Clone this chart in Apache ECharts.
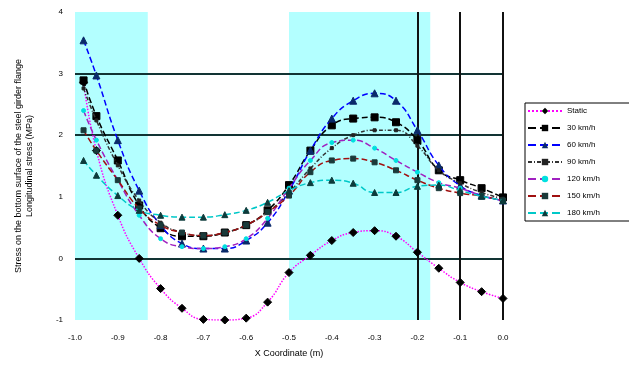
<!DOCTYPE html>
<html>
<head>
<meta charset="utf-8">
<script src="https://cdn.jsdelivr.net/npm/echarts@6/dist/echarts.min.js"></script>
<style>html,body{margin:0;padding:0;background:#fff}#c{width:629px;height:377px}</style>
</head>
<body>
<div id="c"></div>
<script>
// Positions along the girder (m)
const xCoords = [-0.98, -0.95, -0.9, -0.85, -0.8, -0.75, -0.7, -0.65, -0.6, -0.55, -0.5,
                 -0.45, -0.4, -0.35, -0.3, -0.25, -0.2, -0.15, -0.1, -0.05, 0.0];
const xTickLabels = ['-1.0', '-0.9', '-0.8', '-0.7', '-0.6', '-0.5', '-0.4', '-0.3', '-0.2', '-0.1', '0.0'];
const yTickLabels = ['-1', '0', '1', '2', '3', '4'];

const seriesNames = ['Static', '30 km/h', '60 km/h', '90 km/h', '120 km/h', '150 km/h', '180 km/h'];

const staticVals = [2.86, 1.75, 0.70, 0.00, -0.49, -0.81, -0.99, -1.00, -0.97, -0.71, -0.23,
                    0.05, 0.29, 0.42, 0.45, 0.36, 0.10, -0.16, -0.39, -0.54, -0.65];
const speed30 = [2.89, 2.31, 1.59, 0.86, 0.49, 0.36, 0.36, 0.42, 0.54, 0.78, 1.19,
                 1.75, 2.16, 2.27, 2.29, 2.21, 1.92, 1.43, 1.27, 1.14, 0.99];
const speed60 = [3.54, 2.97, 1.92, 1.10, 0.54, 0.24, 0.16, 0.16, 0.29, 0.58, 1.10,
                 1.75, 2.27, 2.56, 2.68, 2.56, 2.08, 1.51, 1.18, 1.02, 0.94];
const speed90 = [2.76, 2.24, 1.51, 0.94, 0.58, 0.42, 0.37, 0.42, 0.54, 0.75, 1.07,
                 1.46, 1.79, 2.00, 2.08, 2.08, 1.83, 1.43, 1.22, 1.07, 0.97];
const speed120 = [2.40, 1.92, 1.27, 0.70, 0.32, 0.19, 0.16, 0.19, 0.32, 0.65, 1.14,
                  1.59, 1.88, 1.92, 1.79, 1.59, 1.40, 1.23, 1.14, 1.02, 0.94];
const speed150 = [2.08, 1.75, 1.27, 0.81, 0.54, 0.42, 0.37, 0.42, 0.54, 0.75, 1.02,
                  1.40, 1.59, 1.62, 1.56, 1.43, 1.27, 1.14, 1.06, 1.01, 0.94];
const speed180 = [1.59, 1.35, 1.02, 0.78, 0.70, 0.67, 0.67, 0.71, 0.78, 0.91, 1.10,
                  1.23, 1.27, 1.22, 1.07, 1.07, 1.17, 1.19, 1.10, 1.01, 0.94];

// Shaded zones along the girder and reference lines
const shadedZones = [[-1.0, -0.83], [-0.5, -0.17]];
const refLevels = [0, 2, 3];
const refPositions = [-0.2, -0.1, 0.0];

const pair = vals => xCoords.map((x, i) => [x, vals[i]]);

const styles = [
  {line: '#ff00ff', type: 'dotted', symbol: 'diamond', fill: '#000', size: 8},
  {line: '#000000', type: 'dashed', symbol: 'rect', fill: '#000', size: 7},
  {line: '#0000ff', type: 'dashed', symbol: 'triangle', fill: '#0a2a6a', size: 7},
  {line: '#333333', type: [4, 2, 1, 2], symbol: 'rect', fill: '#222', size: 3},
  {line: '#a020c0', type: 'dashed', symbol: 'circle', fill: '#00e0e0', size: 4},
  {line: '#a01010', type: 'dashed', symbol: 'rect', fill: '#1a3a3a', size: 5},
  {line: '#00c8c8', type: 'dashed', symbol: 'triangle', fill: '#0d3b3b', size: 6}
];
const allVals = [staticVals, speed30, speed60, speed90, speed120, speed150, speed180];

const series = allVals.map((vals, i) => ({
  name: seriesNames[i],
  type: 'line',
  data: pair(vals),
  smooth: true,
  symbol: styles[i].symbol,
  symbolSize: styles[i].size,
  itemStyle: {color: styles[i].fill, borderColor: styles[i].fill},
  lineStyle: {color: styles[i].line, width: 1.5, type: styles[i].type},
  z: 5 + i
}));

// Shading and reference lines carried by an empty helper series
series.push({
  name: '__ref',
  type: 'line',
  data: [],
  silent: true,
  markArea: {
    silent: true,
    itemStyle: {color: '#b3ffff'},
    data: shadedZones.map(z => [{xAxis: z[0]}, {xAxis: z[1]}])
  },
  markLine: {
    silent: true,
    symbol: 'none',
    label: {show: false},
    lineStyle: {color: '#123434', width: 2, type: 'solid'},
    data: refLevels.map(v => ({yAxis: v})).concat(
      refPositions.map(v => ({xAxis: v, lineStyle: {color: '#111', width: 2, type: 'solid'}})))
  },
  z: 1
});

const chart = echarts.init(document.getElementById('c'), null, {renderer: 'canvas'});
chart.setOption({
  animation: false,
  textStyle: {fontFamily: 'Liberation Sans, Arial, sans-serif'},
  grid: {left: 75, right: 126, top: 12, bottom: 57, containLabel: false},
  xAxis: {
    type: 'value', min: -1, max: 0, interval: 0.1,
    name: 'X Coordinate (m)', nameLocation: 'middle', nameGap: 29,
    nameTextStyle: {fontSize: 9, color: '#000'},
    axisLine: {show: false},
    axisTick: {show: false},
    splitLine: {show: false},
    axisLabel: {
      fontSize: 8, color: '#000', margin: 14,
      formatter: v => xTickLabels[Math.round((v + 1) * 10)]
    }
  },
  yAxis: {
    type: 'value', min: -1, max: 4, interval: 1,
    name: 'Stress on the bottom surface of the steel girder flange\nLongitudinal stress (MPa)',
    nameLocation: 'middle', nameGap: 40, nameRotate: 90,
    nameTextStyle: {fontSize: 9, color: '#000', lineHeight: 11},
    axisLine: {show: false},
    axisTick: {show: false},
    splitLine: {show: false},
    axisLabel: {
      fontSize: 8, color: '#000', margin: 12,
      formatter: v => yTickLabels[Math.round(v + 1)]
    }
  },
  legend: {
    data: seriesNames,
    orient: 'vertical',
    left: 525, top: 103,
    itemWidth: 34, itemHeight: 8, itemGap: 9,
    padding: [4, 60, 4, 2],
    borderColor: '#000', borderWidth: 1,
    backgroundColor: '#fff',
    textStyle: {fontSize: 8, color: '#000'}
  },
  series: series
});
</script>
</body>
</html>
